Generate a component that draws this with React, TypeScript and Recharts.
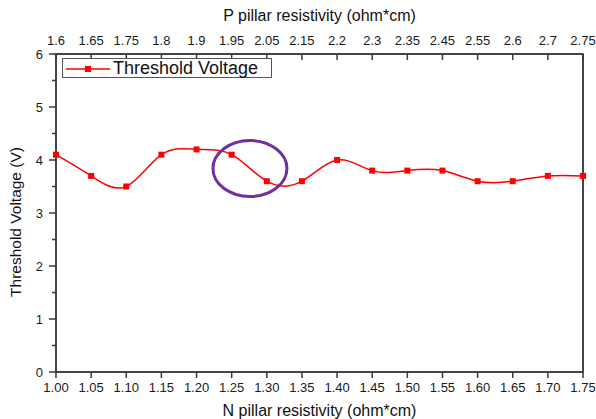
import { LineChart, Line, XAxis, YAxis, Legend, ReferenceDot, ReferenceArea } from 'recharts';

const nResistivity = [1.0, 1.05, 1.1, 1.15, 1.2, 1.25, 1.3, 1.35, 1.4, 1.45, 1.5, 1.55, 1.6, 1.65, 1.7, 1.75];
const pResistivity = ['1.6', '1.65', '1.75', '1.8', '1.9', '1.95', '2.05', '2.15', '2.2', '2.3', '2.35', '2.45', '2.55', '2.6', '2.7', '2.75'];
const thresholdVoltage = [4.1, 3.7, 3.5, 4.1, 4.2, 4.1, 3.6, 3.6, 4.0, 3.8, 3.8, 3.8, 3.6, 3.6, 3.7, 3.7];
const yMajorTicks = [0, 1, 2, 3, 4, 5, 6];
const yMinorTicks = [0.5, 1.5, 2.5, 3.5, 4.5, 5.5];
const circled = { n: 1.276, v: 3.84 };

const data = nResistivity.map((n, i) => ({ n, v: thresholdVoltage[i] }));
const yTicks = [...yMajorTicks, ...yMinorTicks].sort((a, b) => a - b);

const FONT = '"Liberation Sans", Arial, sans-serif';
const AXIS = '#3a3a3a';
const RED = '#ff0000';
const TXT = '#1a1a1a';

// tick marks drawn as small filled rects together with the labels
const BottomTick = (p: any) => {
  const { x, y, payload } = p;
  return (
    <g>
      <rect x={x - 0.75} y={y} width={1.5} height={6} fill={AXIS} />
      <text x={x} y={y + 20} textAnchor="middle" fontSize={13} fill={TXT} fontFamily={FONT}>
        {Number(payload.value).toFixed(2)}
      </text>
    </g>
  );
};

const TopTick = (p: any) => {
  const { x, y, payload } = p;
  const i = nResistivity.indexOf(payload.value);
  return (
    <g>
      <rect x={x - 0.75} y={y} width={1.5} height={6} fill={AXIS} />
      <text x={x} y={y - 9} textAnchor="middle" fontSize={13} fill={TXT} fontFamily={FONT}>
        {pResistivity[i >= 0 ? i : p.index]}
      </text>
    </g>
  );
};

const LeftTick = (p: any) => {
  const { x, y, payload } = p;
  const major = Number.isInteger(payload.value);
  const len = major ? 7 : 4;
  return (
    <g>
      <rect x={x - len} y={y - 0.75} width={len} height={1.5} fill={AXIS} />
      {major && (
        <text x={x - 13} y={y + 4.5} textAnchor="end" fontSize={13} fill={TXT} fontFamily={FONT}>
          {payload.value}
        </text>
      )}
    </g>
  );
};

const RightTick = (p: any) => {
  const { x, y, payload } = p;
  const len = Number.isInteger(payload.value) ? 7 : 4;
  return <rect x={x - len} y={y - 0.75} width={len} height={1.5} fill={AXIS} />;
};

const LegendBox = () => (
  <div
    style={{
      border: '1px solid #555',
      height: 18,
      width: 208,
      display: 'flex',
      alignItems: 'center',
      fontFamily: FONT,
      fontSize: 18,
      color: '#111',
      background: '#fff',
    }}
  >
    <svg width={50} height={18}>
      <line x1={3} x2={47} y1={10} y2={10} stroke={RED} strokeWidth={1.5} />
      <rect x={22} y={7} width={6} height={6} fill={RED} />
    </svg>
    <span style={{ lineHeight: '18px' }}>Threshold Voltage</span>
  </div>
);

const YTitle = () => {
  const cy = 222;
  return (
    <text
      x={15}
      y={cy}
      transform={`rotate(-90, 15, ${cy})`}
      textAnchor="middle"
      dominantBaseline="central"
      fontSize={15.5}
      fill="#111"
      fontFamily={FONT}
    >
      Threshold Voltage (V)
    </text>
  );
};

const SquareDot = (props: any) => {
  const { cx, cy, index } = props;
  if (cx == null || cy == null) return null;
  return <rect key={`d-${index}`} x={cx - 3} y={cy - 3} width={6} height={6} fill={RED} />;
};

export default function App() {
  return (
    <div style={{ position: 'absolute', left: 0, top: 0, width: 596, height: 419, background: '#fff' }}>
      <LineChart width={596} height={419} data={data} margin={{ top: 0, right: 12, bottom: 0, left: 0 }}>
        <XAxis
          xAxisId="bottom"
          dataKey="n"
          type="number"
          domain={[1, 1.75]}
          ticks={nResistivity}
          height={47}
          tickSize={0}
          tickMargin={0}
          tickLine={false}
          tick={<BottomTick />}
          stroke={AXIS}
          strokeWidth={1.5}
          interval={0}
          label={{ value: 'N pillar resistivity (ohm*cm)', position: 'insideBottom', offset: 3, fontSize: 16, fill: '#111', fontFamily: FONT }}
        />
        <XAxis
          xAxisId="top"
          dataKey="n"
          orientation="top"
          type="number"
          domain={[1, 1.75]}
          ticks={nResistivity}
          height={54}
          tickSize={0}
          tickMargin={0}
          tickLine={false}
          tick={<TopTick />}
          stroke={AXIS}
          strokeWidth={1.5}
          interval={0}
          label={{ value: 'P pillar resistivity (ohm*cm)', position: 'insideTop', offset: 10, fontSize: 16, fill: '#111', fontFamily: FONT }}
        />
        <YAxis
          yAxisId="left"
          type="number"
          domain={[0, 6]}
          ticks={yTicks}
          width={56}
          tickSize={0}
          tickMargin={0}
          tickLine={false}
          tick={<LeftTick />}
          stroke={AXIS}
          strokeWidth={1.5}
          interval={0}
          label={<YTitle />}
        />
        <YAxis
          yAxisId="right"
          orientation="right"
          type="number"
          domain={[0, 6]}
          ticks={yTicks}
          width={1}
          tickSize={0}
          tickMargin={0}
          tickLine={false}
          tick={<RightTick />}
          stroke={AXIS}
          strokeWidth={1.5}
          interval={0}
        />
        <ReferenceArea
          xAxisId="bottom"
          yAxisId="left"
          x1={1}
          x2={1.75}
          y1={0}
          y2={6}
          fill="none"
          fillOpacity={0}
          stroke={AXIS}
          strokeWidth={1.5}
          ifOverflow="visible"
        />
        <Legend
          layout="vertical"
          align="center"
          verticalAlign="middle"
          wrapperStyle={{ left: 62, top: 58, width: 'auto' }}
          content={<LegendBox />}
        />
        <Line
          xAxisId="bottom"
          yAxisId="left"
          type="natural"
          dataKey="v"
          name="Threshold Voltage"
          stroke={RED}
          strokeWidth={1.5}
          dot={<SquareDot />}
          activeDot={false}
          isAnimationActive={false}
        />
        <ReferenceDot
          xAxisId="bottom"
          yAxisId="left"
          x={circled.n}
          y={circled.v}
          shape={(p: any) => (
            <ellipse cx={p.cx} cy={p.cy} rx={37} ry={28} fill="none" stroke="#7030a0" strokeWidth={3} />
          )}
        />
      </LineChart>
    </div>
  );
}
